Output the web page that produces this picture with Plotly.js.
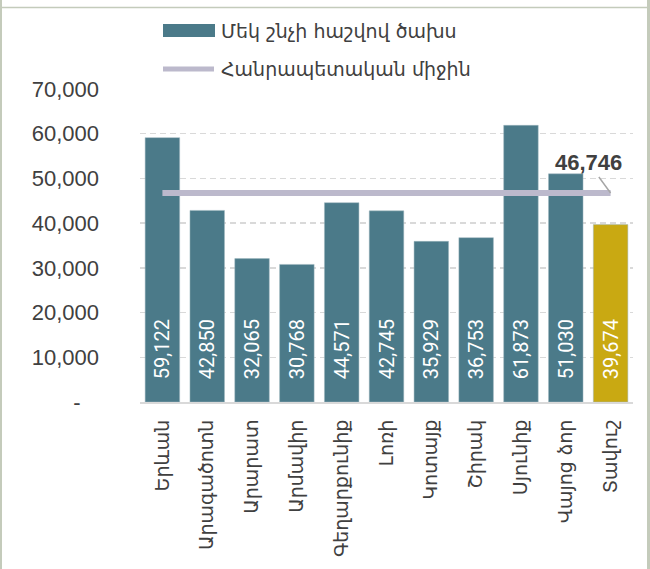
<!DOCTYPE html>
<html>
<head>
<meta charset="utf-8">
<script src="https://cdn.plot.ly/plotly-3.0.1.min.js"></script>
<style>
  html, body { margin: 0; padding: 0; background: #fff; }
  #chart { width: 650px; height: 569px; }
</style>
</head>
<body>
<div id="chart"></div>
<script>
// Spending per capita by region, with the national average
const regions = ['Երևան', 'Արագածոտն', 'Արարատ', 'Արմավիր', 'Գեղարքունիք', 'Լոռի',
                 'Կոտայք', 'Շիրակ', 'Սյունիք', 'Վայոց ձոր', 'Տավուշ'];
const spending = [59122, 42850, 32065, 30768, 44571, 42745, 35929, 36753, 61873, 51030, 39674];
const nationalAverage = 46746;
const averageLine = regions.map(() => nationalAverage);

const yTickVals = [0, 10000, 20000, 30000, 40000, 50000, 60000, 70000];
const yTickText = ['-\u00a0\u00a0\u00a0', '10,000', '20,000', '30,000', '40,000', '50,000', '60,000', '70,000'];

const barName = 'Մեկ շնչի հաշվով ծախս';
const lineName = 'Հանրապետական միջին';

const teal = '#4b7a89';
const gold = '#c9a912';
const lavender = '#bcb9cc';
const textGrey = '#404040';
const frameGrey = '#c4cbbb';
const armFont = 'DejaVu Sans, Noto Sans, sans-serif';

// highlighted region gets its own colour
const barColors = regions.map(r => r === 'Տավուշ' ? gold : teal);

// plot area in pixels, used to place the hand-made legend and frame
const L = 140, R = 633, T = 89, B = 402;
function px(x) { return (x - L) / (R - L); }
function py(y) { return (B - y) / (B - T); }

const bars = {
    type: 'bar',
    x: regions,
    y: spending,
    name: barName,
    marker: { color: barColors, line: { color: '#9fb7bf', width: 0.5 } },
    texttemplate: '\u00a0\u00a0\u00a0\u00a0%{y:,}',
    textposition: 'inside',
    insidetextanchor: 'start',
    textangle: -90,
    textfont: { family: 'Roboto, sans-serif', size: 20, color: '#ffffff' },
    hoverinfo: 'x+y',
    showlegend: false
};

const avg = {
    type: 'scatter',
    mode: 'lines',
    x: regions,
    y: averageLine,
    name: lineName,
    line: { color: lavender, width: 6 },
    hoverinfo: 'y',
    showlegend: false
};

const layout = {
    width: 650,
    height: 569,
    margin: { l: L, r: 650 - R, t: T, b: 569 - B },
    paper_bgcolor: '#ffffff',
    plot_bgcolor: '#ffffff',
    bargap: 0.23,
    showlegend: false,
    xaxis: {
        type: 'category',
        tickangle: -90,
        ticks: '',
        ticklen: 0,
        ticklabelstandoff: 8,
        tickfont: { family: armFont, size: 19, color: textGrey },
        showline: true,
        linecolor: '#d9d9d9',
        linewidth: 2,
        showgrid: false
    },
    yaxis: {
        range: [0, 70000],
        tickvals: yTickVals,
        ticktext: yTickText,
        ticks: '',
        ticklen: 0,
        ticklabelstandoff: 40,
        tickfont: { family: 'Liberation Sans, Arial, sans-serif', size: 22, color: textGrey },
        showgrid: true,
        gridcolor: '#d9d9d9',
        gridwidth: 1.5,
        griddash: '6px,4px',
        zeroline: false,
        showline: false
    },
    shapes: [
        // frame
        { type: 'line', xref: 'paper', yref: 'paper', x0: px(1), x1: px(1), y0: py(0), y1: py(569),
          line: { color: frameGrey, width: 2 } },
        { type: 'line', xref: 'paper', yref: 'paper', x0: px(648.5), x1: px(648.5), y0: py(0), y1: py(569),
          line: { color: frameGrey, width: 3 } },
        { type: 'line', xref: 'paper', yref: 'paper', x0: px(2), x1: px(647), y0: py(7.5), y1: py(7.5),
          line: { color: frameGrey, width: 1.5 } },
        // legend swatches
        { type: 'rect', xref: 'paper', yref: 'paper', x0: px(163), x1: px(215), y0: py(37), y1: py(24),
          fillcolor: teal, line: { width: 0 } },
        { type: 'line', xref: 'paper', yref: 'paper', x0: px(163), x1: px(214), y0: py(69), y1: py(69),
          line: { color: lavender, width: 5 } }
    ],
    annotations: [
        { xref: 'paper', yref: 'paper', x: px(219), y: py(31), xanchor: 'left', yanchor: 'middle',
          text: barName, showarrow: false, font: { family: armFont, size: 19, color: textGrey } },
        { xref: 'paper', yref: 'paper', x: px(219), y: py(69), xanchor: 'left', yanchor: 'middle',
          text: lineName, showarrow: false, font: { family: armFont, size: 19, color: textGrey } },
        { x: regions[regions.length - 1], y: nationalAverage,
          text: '<b>46,746</b>', showarrow: true, arrowhead: 0, arrowwidth: 1.5, arrowcolor: '#a6a6a6',
          ax: -22, ay: -30, font: { family: 'Liberation Sans, Arial, sans-serif', size: 22, color: textGrey } }
    ]
};

Plotly.newPlot('chart', [bars, avg], layout, { displayModeBar: false, staticPlot: true });
</script>
</body>
</html>
